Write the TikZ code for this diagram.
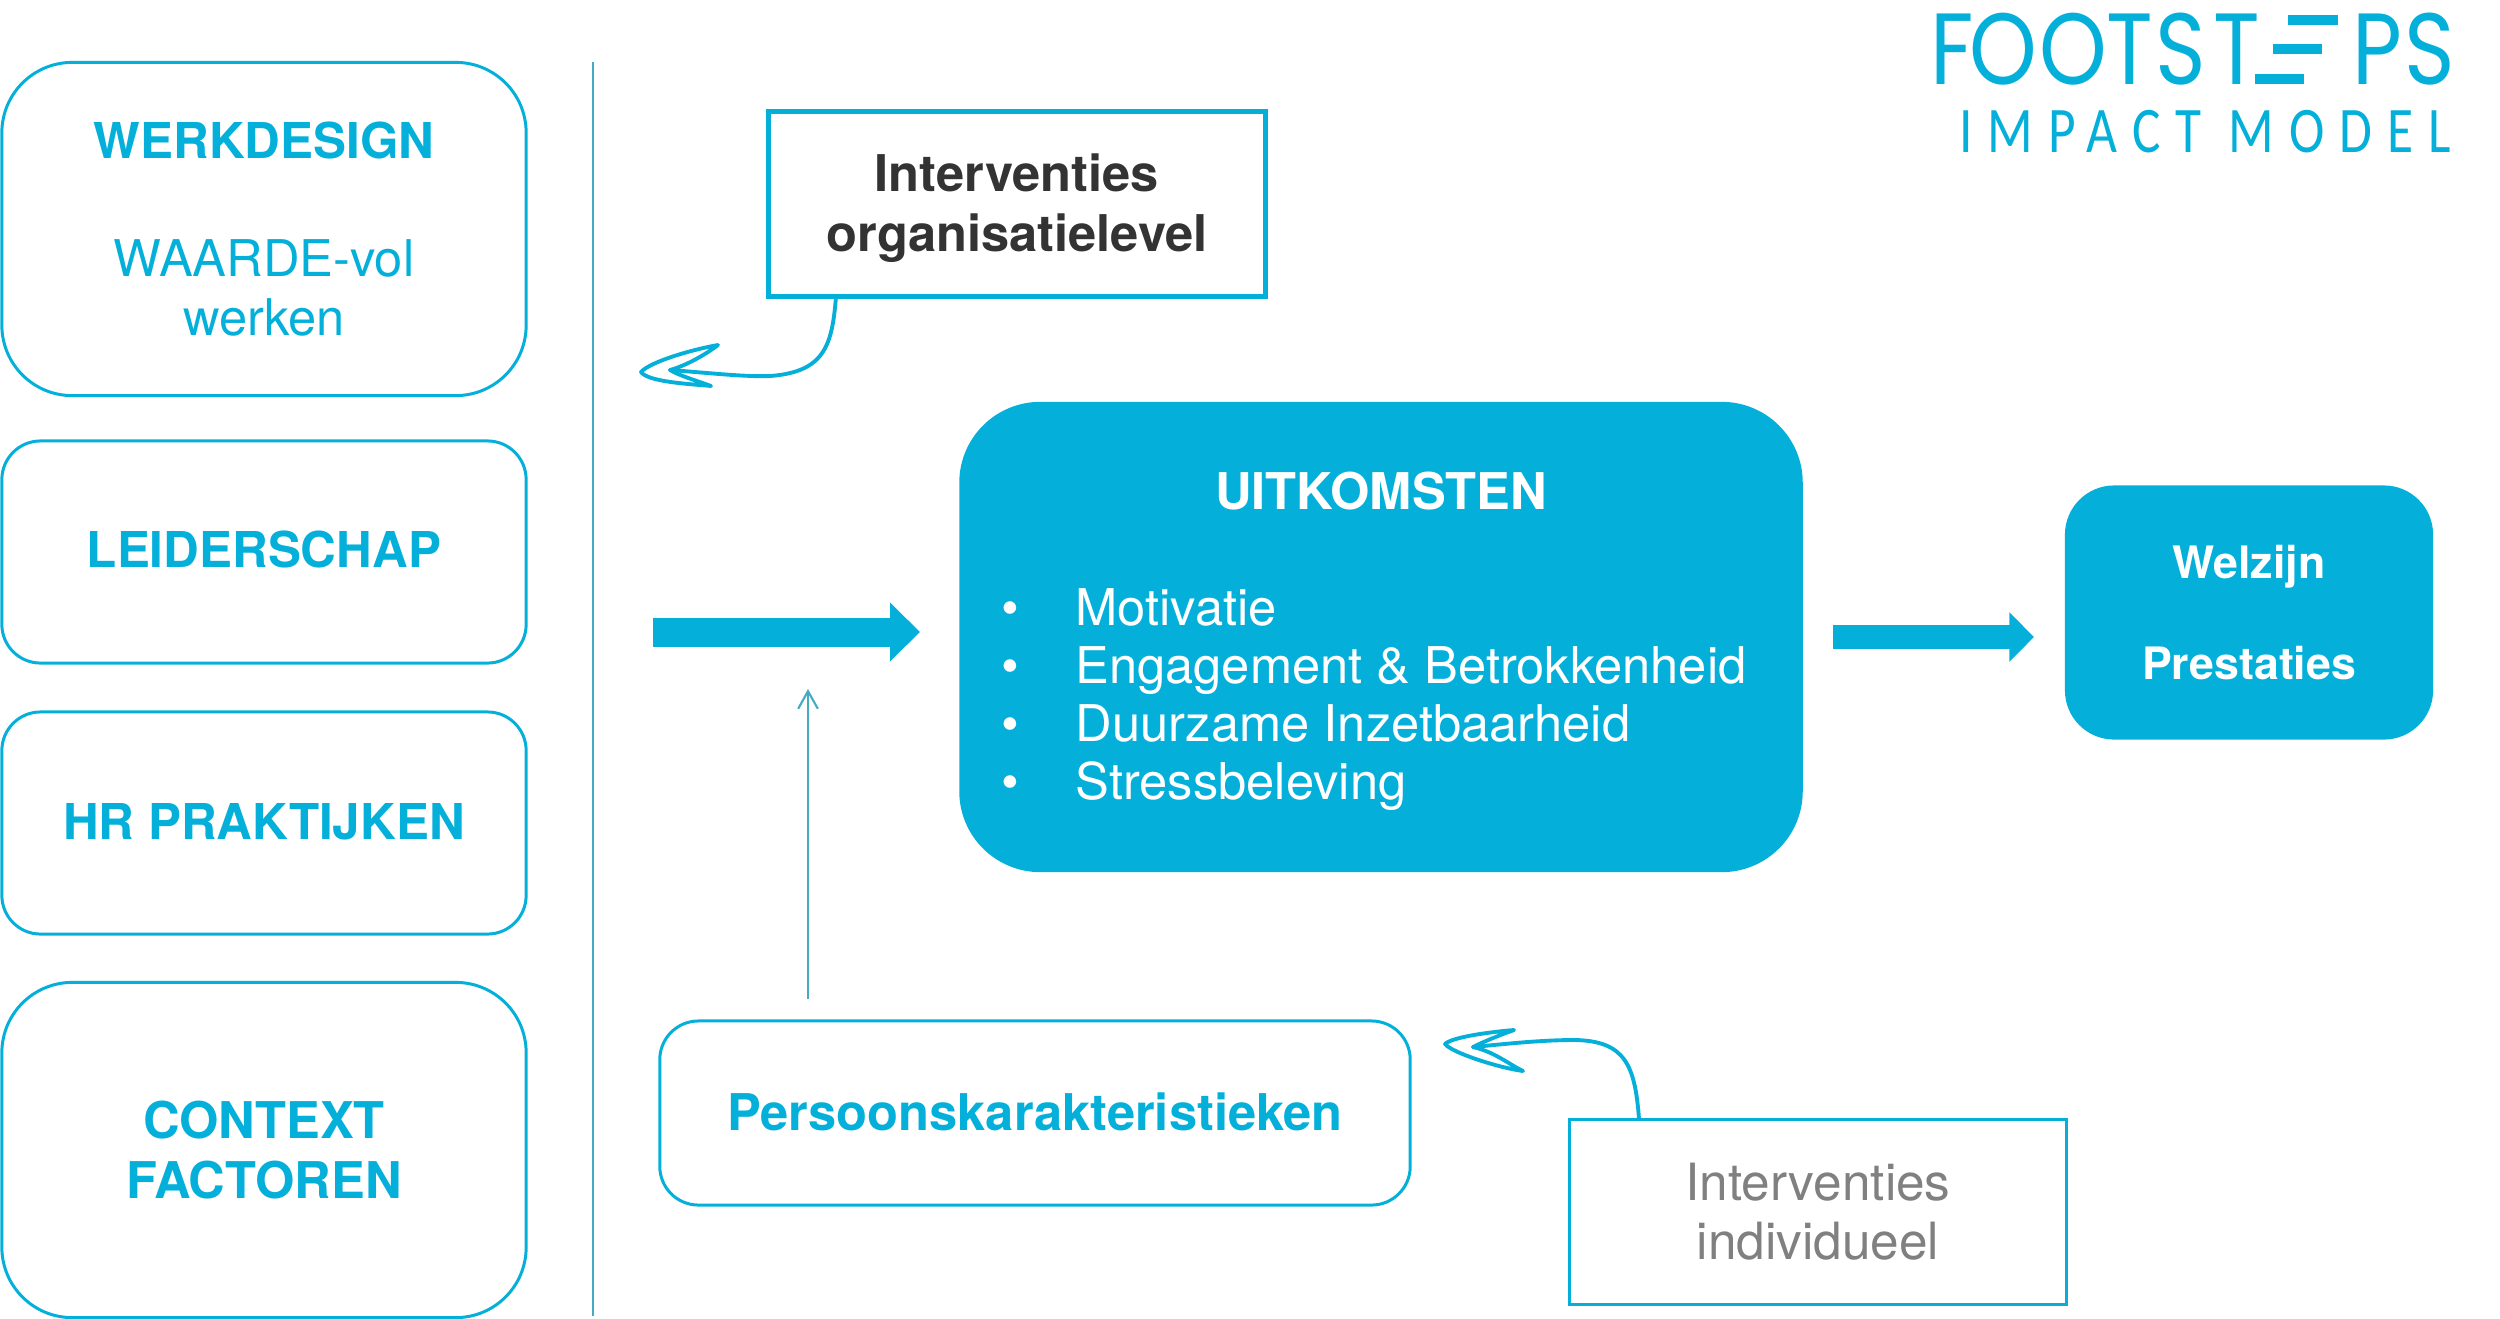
\documentclass[tikz,border=0pt]{standalone}
\usepackage{fontspec}
\setmainfont{TeX Gyre Heros}
\newfontfamily\logofont{Poppins}
\newfontfamily\sublogofont[LetterSpace=28]{Carlito}
\usetikzlibrary{arrows.meta,calc}
\definecolor{fsblue}{HTML}{04B0DA}
\definecolor{fsline}{HTML}{45AAC4}
\newcommand{\boxfont}{\fontsize{14.4pt}{16.8pt}\selectfont}
\newcommand{\capfont}{\fontsize{14.05pt}{16.8pt}\selectfont}
\tikzset{
  sidebox/.style={draw=fsblue, line width=0.85pt, rounded corners=#1, align=center, text=fsblue, font=\boxfont},
  framebox/.style={draw=fsblue, line width=#1, align=center, font=\boxfont},
  solidbox/.style={fill=fsblue, rounded corners=#1, align=center, text=white},
  bigarrow/.style={draw=fsblue, line width=#1},
  handline/.style={draw=fsblue, line width=1.1pt, line join=round, line cap=round},
  listtext/.style={text=white, font=\boxfont, anchor=base west, inner sep=0pt},
  logoletter/.style={text=fsblue, inner sep=0pt, xscale=.85, font=\logofont\fontsize{28.8pt}{28.8pt}\selectfont}
}
\begin{document}
\begin{tikzpicture}[x=0.01cm,y=-0.01cm]
\useasboundingbox (0,0) rectangle (2500,1318);
% left column
\node[sidebox=20pt, minimum width=5.24cm, minimum height=3.33cm] (werkdesign) at (264,229) {{\capfont\textbf{WERKDESIGN}}\\ \\WAARDE-vol\\werken};
\node[sidebox=11pt, minimum width=5.24cm, minimum height=2.22cm, text depth=1.4pt] (leiderschap) at (264,552) {\capfont\textbf{LEIDERSCHAP}};
\node[sidebox=11pt, minimum width=5.24cm, minimum height=2.22cm, text depth=1pt] (hrpraktijken) at (264,823) {\capfont\textbf{HR PRAKTIJKEN}};
\node[sidebox=20pt, minimum width=5.24cm, minimum height=3.35cm] (context) at (264,1150) {\textbf{CONTEXT}\\\textbf{FACTOREN}};
\coordinate (divtop) at (593,62); \coordinate (divbot) at (593,1316);
\draw[fsline, line width=0.6pt] (divtop) -- (divbot);
% middle
\node[framebox=1.4pt, minimum width=4.97cm, minimum height=1.84cm, text=black!80] (orglevel) at (1017,204) {\rule{0pt}{13.1pt}\textbf{Interventies}\\\textbf{organisatielevel}};
\node[solidbox=23pt, minimum width=8.43cm, minimum height=4.70cm] (uitkomsten) at (1381,637) {};
\node[text=white, font=\boxfont\bfseries] (uittitle) at (1381,491) {UITKOMSTEN};
\foreach \n/\y/\t in {mot/625/Motivatie, eng/683/Engagement \& Betrokkenheid, duu/741/Duurzame Inzetbaarheid, str/799/Stressbeleving} {
  \node[listtext] (\n) at (1075,\y) {\t};
  \node[listtext] (\n dot) at (1001,\y) {\textbullet};
}
\node[solidbox=14pt, minimum width=3.68cm, minimum height=2.54cm, font=\fontsize{12.7pt}{18.4pt}\selectfont\bfseries] (welzijn) at (2249,612.5) {Welzijn\\ \\[-8pt]Prestaties};
\node[sidebox=11pt, minimum width=7.50cm, minimum height=1.84cm, text depth=1pt] (persoon) at (1035,1113) {\textbf{Persoonskarakteristieken}};
\node[framebox=0.95pt, minimum width=4.97cm, minimum height=1.85cm, text=black!50, font=\fontsize{14.6pt}{16.8pt}\selectfont] (individueel) at (1818,1212) {Interventies\\individueel};
% arrows
\coordinate (bigstart) at (653,632); \coordinate (bigend) at (920,632);
\draw[bigarrow=8.25pt, -{Triangle[length=8.5pt,width=16.2pt]}] (bigstart) -- (bigend);
\coordinate (smallstart) at (1833,637); \coordinate (smallend) at (2034,637);
\draw[bigarrow=6.6pt, -{Triangle[length=7pt,width=13.6pt]}] (smallstart) -- (smallend);
\coordinate (thinstart) at (808,999); \coordinate (thinend) at (808,689);
\draw[fsline, line width=0.6pt, -{Straight Barb[length=5pt,width=5.6pt]}] (thinstart) -- (thinend);
% hand drawn arrows
\coordinate (orgfoot) at (836,297); \coordinate (orgnotch) at (670,370);
\draw[handline] (orgfoot) .. controls (832,345) and (825,372) .. (770,376) .. controls (745,377) and (710,373) .. (orgnotch);
\draw[handline] (orgnotch) .. controls (685,366) and (705,355) .. (718,345) .. controls (690,350) and (650,362) .. (641,372) .. controls (648,382) and (690,384) .. (711,386) .. controls (695,380) and (680,376) .. (orgnotch);
\coordinate (indfoot) at (1639,1119); \coordinate (indnotch) at (1473,1047);
\draw[handline] (indfoot) .. controls (1635,1065) and (1625,1041) .. (1575,1040) .. controls (1540,1040) and (1505,1044) .. (indnotch);
\draw[handline] (indnotch) .. controls (1485,1041) and (1500,1035) .. (1514,1030) .. controls (1490,1032) and (1452,1037) .. (1445,1044) .. controls (1452,1053) and (1500,1068) .. (1523,1071) .. controls (1510,1065) and (1495,1052) .. (indnotch);
% logo
\foreach \n/\xx/\ch in {lf/1952/F, lo/2003/O, lp/2073/O, lt/2130/T, ls/2181/S, lu/2237/T, lv/2377/P, lw/2430/S} {
  \node[logoletter] (\n) at (\xx,49) {\ch};
}
\foreach \a/\b/\y in {2288/2338/20, 2273/2322/49, 2255/2304/78.5} {
  \fill[fsblue] (\a,\y-5) rectangle (\b,\y+5);
}
\node[text=fsblue, inner sep=0pt, xscale=.82, font=\sublogofont\fontsize{18.5pt}{18.5pt}\selectfont] (impact) at (2205,132) {IMPACT MODEL};
\end{tikzpicture}
\end{document}
